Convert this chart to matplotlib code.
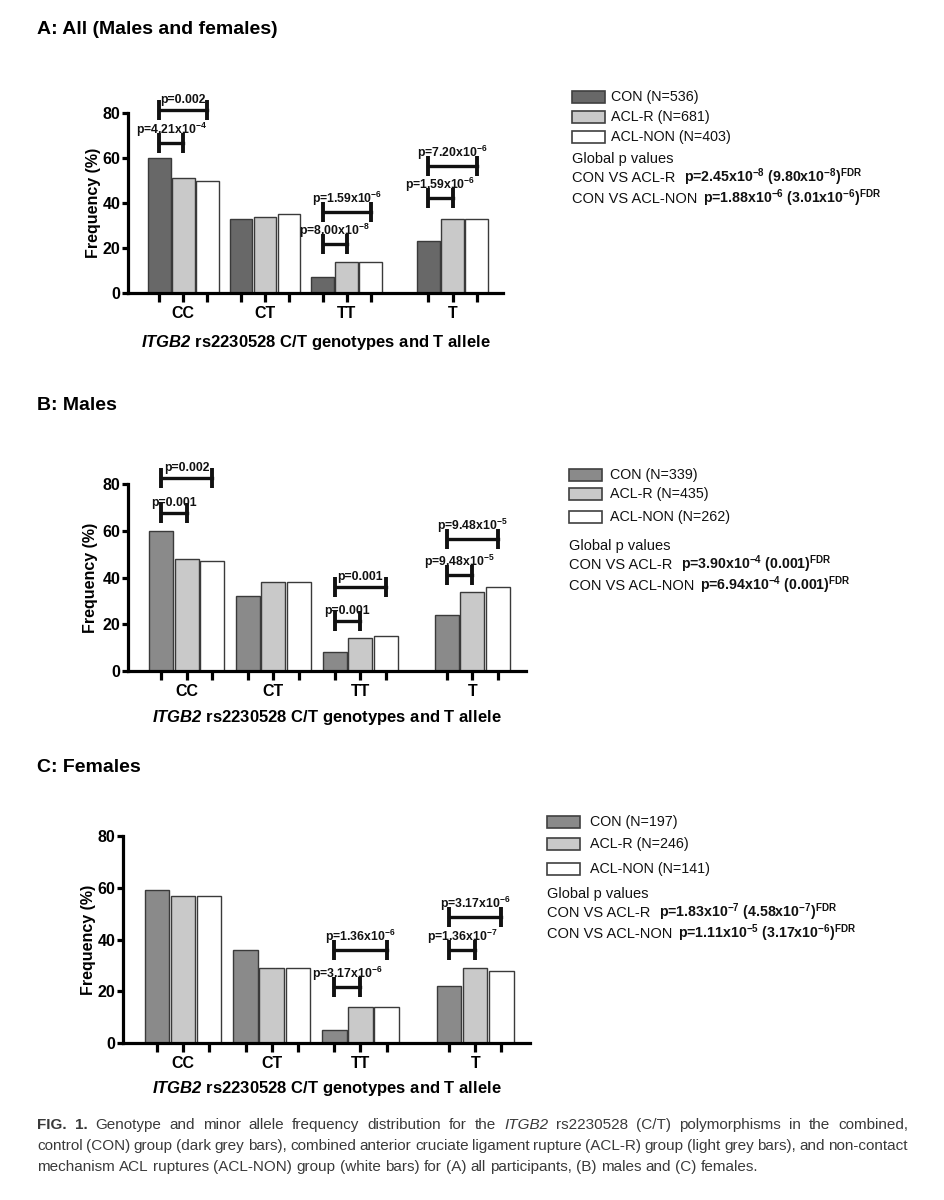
import matplotlib
matplotlib.use("Agg")
import matplotlib.pyplot as plt
from matplotlib.patches import Rectangle
import numpy as np

plt.rcParams['font.family'] = ['Liberation Sans', 'DejaVu Sans']
plt.rcParams['mathtext.fontset'] = 'custom'
plt.rcParams['mathtext.rm'] = 'Liberation Sans:italic:bold'
plt.rcParams['mathtext.it'] = 'Liberation Sans:italic:bold'
plt.rcParams['mathtext.bf'] = 'Liberation Sans:bold'
plt.rcParams['mathtext.default'] = 'regular'

W, H = 944, 1200

categories = ['CC', 'CT', 'TT', 'T']
group_names = ['CON', 'ACL-R', 'ACL-NON']

# A: all participants
a_con = [60, 33, 7, 23]
a_aclr = [51, 34, 14, 33]
a_non = [50, 35, 14, 33]
a_n = [536, 681, 403]
a_brk_cat = [0, 0, 2, 2, 3, 3]
a_brk_span = [1, 2, 1, 2, 1, 2]
a_brk_y = [66.7, 81.3, 21.8, 36.0, 42.2, 56.4]
a_brk_p = ['p=4.21x10$^{-4}$', 'p=0.002', 'p=8.00x10$^{-8}$', 'p=1.59x10$^{-6}$',
           'p=1.59x10$^{-6}$', 'p=7.20x10$^{-6}$']
a_global = ['p=2.45x10$^{-8}$ (9.80x10$^{-8}$)$^{FDR}$',
            'p=1.88x10$^{-6}$ (3.01x10$^{-6}$)$^{FDR}$']

# B: males
b_con = [60, 32, 8, 24]
b_aclr = [48, 38, 14, 34]
b_non = [47, 38, 15, 36]
b_n = [339, 435, 262]
b_brk_cat = [0, 0, 2, 2, 3, 3]
b_brk_span = [1, 2, 1, 2, 1, 2]
b_brk_y = [67.6, 82.6, 21.4, 36.0, 41.0, 56.5]
b_brk_p = ['p=0.001', 'p=0.002', 'p=0.001', 'p=0.001',
           'p=9.48x10$^{-5}$', 'p=9.48x10$^{-5}$']
b_global = ['p=3.90x10$^{-4}$ (0.001)$^{FDR}$',
            'p=6.94x10$^{-4}$ (0.001)$^{FDR}$']

# C: females
c_con = [59, 36, 5, 22]
c_aclr = [57, 29, 14, 29]
c_non = [57, 29, 14, 28]
c_n = [197, 246, 141]
c_brk_cat = [2, 2, 3, 3]
c_brk_span = [1, 2, 1, 2]
c_brk_y = [21.6, 35.9, 35.9, 48.7]
c_brk_p = ['p=3.17x10$^{-6}$', 'p=1.36x10$^{-6}$',
           'p=1.36x10$^{-7}$', 'p=3.17x10$^{-6}$']
c_global = ['p=1.83x10$^{-7}$ (4.58x10$^{-7}$)$^{FDR}$',
            'p=1.11x10$^{-5}$ (3.17x10$^{-6}$)$^{FDR}$']

compare_names = ['CON VS ACL-R', 'CON VS ACL-NON']
compare_gap = [9, 6]

centers = np.array([0, 3.4, 6.8, 11.2])
offsets = [-1, 0, 1]

fig = plt.figure(figsize=(W / 100, H / 100), dpi=100)
fig.patch.set_facecolor('white')
rend = fig.canvas.get_renderer()


def fx(x):
    return x / W


def fy(y):
    return 1 - y / H


def draw_panel(rect, vals, colors, bcat, bspan, by, bp, ylab_right, xlab_top):
    l, t, r, b = rect
    ax = fig.add_axes([fx(l), fy(b), (r - l) / W, (b - t) / H])
    for k in range(3):
        ax.bar(centers + offsets[k], vals[k], width=0.94, color=colors[k],
               edgecolor='#3a3a3a', linewidth=1.0, zorder=2)
    ax.set_xlim(-2.3, 13.3)
    ax.set_ylim(0, 80)
    for s in ['top', 'right']:
        ax.spines[s].set_visible(False)
    for s in ['left', 'bottom']:
        ax.spines[s].set_linewidth(2.3)
    ax.set_yticks([0, 20, 40, 60, 80])
    ax.set_xticks(centers)
    ax.set_xticklabels(categories)
    ax.set_xticks(np.concatenate([centers - 1, centers + 1]), minor=True)
    ax.tick_params(axis='x', which='both', length=6.5, width=2.3, pad=2.5)
    ax.tick_params(axis='y', length=4, width=2.3, pad=1.5)
    for lab in ax.get_xticklabels() + ax.get_yticklabels():
        lab.set_fontsize(11.5)
        lab.set_fontweight('bold')
    ax.set_ylabel('Frequency (%)', fontsize=11.5, fontweight='bold')
    ax.yaxis.set_label_coords(-(l - ylab_right) / (r - l), 0.5)
    ax.set_xlabel(r'$\mathit{ITGB2}$ rs2230528 C/T genotypes and T allele',
                  fontsize=12, fontweight='bold')
    ax.xaxis.set_label_coords(0.5, -xlab_top / (b - t))

    # significance brackets
    for g, sp, yv, txt in zip(bcat, bspan, by, bp):
        x0 = centers[g] - 1
        x1 = x0 + sp
        ax.plot([x0, x1], [yv, yv], color='#111111', lw=2.4, marker='|',
                ms=15, mew=2.8, clip_on=False, zorder=3)
        ax.annotate(txt, xy=((x0 + x1) / 2, yv), xytext=(0, 2.8),
                    textcoords='offset points', ha='center', va='bottom',
                    fontsize=8.8, fontweight='bold', color='#111111',
                    annotation_clip=False)
    return ax


def draw_legend(patch_x, text_x, rows, colors, ns, glob):
    for k in range(3):
        y = rows[k]
        fig.add_artist(Rectangle((fx(patch_x), fy(y + 6)), 33 / W, 12 / H,
                                 transform=fig.transFigure, facecolor=colors[k],
                                 edgecolor='#404040', linewidth=1.2))
        fig.text(fx(text_x), fy(y), f'{group_names[k]} (N={ns[k]})',
                 fontsize=10.3, va='center', ha='left', color='#111111')
    fig.text(fx(patch_x), fy(rows[3]), 'Global p values', fontsize=10.5,
             va='center', ha='left', color='#111111')
    for i in range(2):
        y = rows[4 + i] + 4
        t1 = fig.text(fx(patch_x), fy(y), compare_names[i], fontsize=10.5,
                      va='baseline', ha='left', color='#111111')
        bb = t1.get_window_extent(renderer=rend)
        fig.text((bb.x1 + compare_gap[i]) / W, fy(y), glob[i], fontsize=10.2,
                 fontweight='bold', va='baseline', ha='left', color='#111111')


# panel titles
fig.text(fx(37), fy(30), 'A: All (Males and females)', fontsize=14,
         fontweight='bold', va='center', ha='left')
fig.text(fx(37), fy(406), 'B: Males', fontsize=14,
         fontweight='bold', va='center', ha='left')
fig.text(fx(37), fy(768), 'C: Females', fontsize=14,
         fontweight='bold', va='center', ha='left')

col_a = ['#686868', '#c9c9c9', '#ffffff']
col_bc = ['#8a8a8a', '#c9c9c9', '#ffffff']

draw_panel((128, 113, 503, 293), [a_con, a_aclr, a_non], col_a,
           a_brk_cat, a_brk_span, a_brk_y, a_brk_p, 101, 40)
draw_panel((128, 484, 526, 671), [b_con, b_aclr, b_non], col_bc,
           b_brk_cat, b_brk_span, b_brk_y, b_brk_p, 98, 37)
draw_panel((123, 836, 530, 1043), [c_con, c_aclr, c_non], col_bc,
           c_brk_cat, c_brk_span, c_brk_y, c_brk_p, 96, 36)

draw_legend(572, 611, [97, 117, 137, 159, 178, 199], col_a, a_n, a_global)
draw_legend(569, 610, [475, 494, 517, 546, 565, 586], col_bc, b_n, b_global)
draw_legend(547, 590, [822, 844, 869, 894, 913, 934], col_bc, c_n, c_global)

# caption, justified word by word
caption = [
    "**FIG.** **1.** Genotype and minor allele frequency distribution for the _ITGB2_ "
    "rs2230528 (C/T) polymorphisms in the combined,",
    "control (CON) group (dark grey bars), combined anterior cruciate ligament rupture "
    "(ACL-R) group (light grey bars), and non-contact",
    "mechanism ACL ruptures (ACL-NON) group (white bars) for (A) all participants, "
    "(B) males and (C) females.",
]
cap_family = ['Liberation Sans Narrow', 'Liberation Sans']
cap_x0, cap_w = 37, 871
cap_y = [1129, 1150, 1171]
cap_size = 11
sp = fig.text(0, 0, 'a a', fontsize=cap_size, family=cap_family)
sp2 = fig.text(0, 0, 'aa', fontsize=cap_size, family=cap_family)
space_w = sp.get_window_extent(renderer=rend).width - sp2.get_window_extent(renderer=rend).width
sp.remove()
sp2.remove()
for li, line in enumerate(caption):
    words = []
    for w in line.split(' '):
        weight, style = 'normal', 'normal'
        if w.startswith('**'):
            w = w.strip('*')
            weight = 'bold'
        elif w.startswith('_'):
            w = w.strip('_')
            style = 'italic'
        t = fig.text(0, fy(cap_y[li]), w, fontsize=cap_size, family=cap_family,
                     fontweight=weight, fontstyle=style, color='#3a3a3a',
                     va='baseline', ha='left')
        words.append((t, t.get_window_extent(renderer=rend).width))
    total = sum(wd for _, wd in words)
    if li < len(caption) - 1:
        gap = (cap_w - total) / (len(words) - 1)
    else:
        gap = space_w
    x = cap_x0
    for t, wd in words:
        t.set_x(x / W)
        x += wd + gap

fig.savefig('out.png', dpi=100, facecolor='white')
